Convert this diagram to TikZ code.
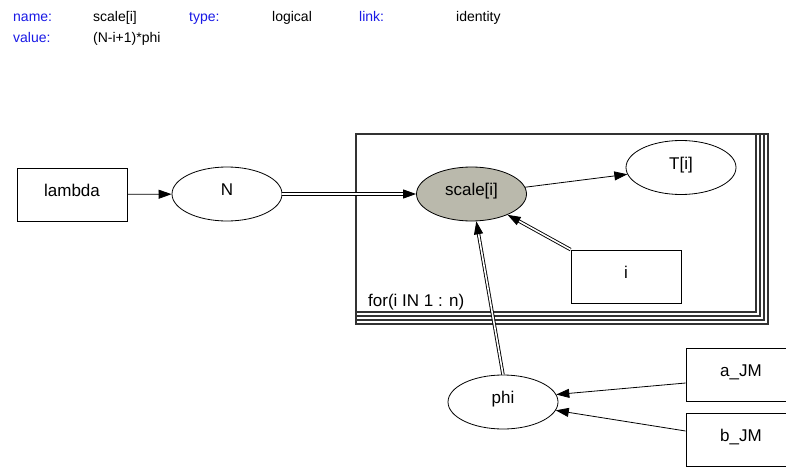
\documentclass[tikz,border=0pt]{standalone}
\usepackage{fontspec}
\setmainfont{Liberation Sans}
\usetikzlibrary{shapes.geometric,arrows.meta}
\definecolor{hdrblue}{RGB}{25,25,230}
\definecolor{nodegray}{RGB}{186,185,172}
\definecolor{platecol}{RGB}{50,50,50}
\begin{document}
\begin{tikzpicture}[x=1pt,y=-1pt,
  lbl/.style={font=\fontsize{17}{20}\selectfont, text height=10pt, text depth=7pt, inner sep=0pt},
  stoch/.style={lbl, ellipse, draw, minimum width=110pt, minimum height=54pt, line width=0.8pt},
  cnst/.style={lbl, rectangle, draw, minimum width=110pt, minimum height=53pt, line width=0.8pt},
  lnk/.style={line width=0.8pt, -{Triangle[length=13pt,width=9pt]}},
  dlnk/.style={line width=0.9pt, double, double distance=1.6pt, -{Triangle[length=13pt,width=9pt]}},
  hdr/.style={font=\fontsize{14}{16}\selectfont, anchor=base west, inner sep=0pt},
  plate/.style={draw=platecol, line width=1.3pt},
]
\clip (0,0) rectangle (786,468);
\fill[white] (0,0) rectangle (786,468);

% node information header
\node[hdr, text=hdrblue] (hname) at (13,22) {name:};
\node[hdr] (vname) at (93,22) {scale[i]};
\node[hdr, text=hdrblue] (htype) at (189,22) {type:};
\node[hdr] (vtype) at (272,22) {logical};
\node[hdr, text=hdrblue] (hlink) at (359,22) {link:};
\node[hdr] (vlink) at (456,22) {identity};
\node[hdr, text=hdrblue] (hval) at (13,43) {value:};
\node[hdr] (vval) at (93,43) {(N-i+1)*phi};

% plate for the loop over i (stacked frames)
\foreach \k in {3,2,1,0}
  \draw[plate] (356,134) rectangle ({756+4*\k},{312+4*\k});
\node[font=\fontsize{17}{20}\selectfont, anchor=base west, inner sep=0pt] (platelabel) at (368,306) {for(i IN 1 : n)};

% nodes
\node[cnst] (lambda) at (72,194.5) {lambda};
\node[stoch] (N) at (227,194) {N};
\node[stoch, fill=nodegray] (scale) at (471.5,194) {scale[i]};
\node[stoch] (T) at (681,167.5) {T[i]};
\node[cnst] (i) at (626,276.5) {i};
\node[stoch] (phi) at (503,402) {phi};
\node[cnst] (aJM) at (741,374.5) {a\_JM};
\node[cnst] (bJM) at (741,440) {b\_JM};

% edges
\draw[lnk] (lambda) -- (N);
\draw[dlnk] (N) -- (scale);
\draw[lnk] (scale) -- (T);
\draw[dlnk] (i.north west) -- (scale.-30);
\draw[dlnk] (phi.north) -- (scale.-80);
\draw[lnk] ([yshift=-8.5pt]aJM.west) -- (phi.8);
\draw[lnk] ([yshift=9pt]bJM.west) -- (phi.-9);
\end{tikzpicture}
\end{document}
